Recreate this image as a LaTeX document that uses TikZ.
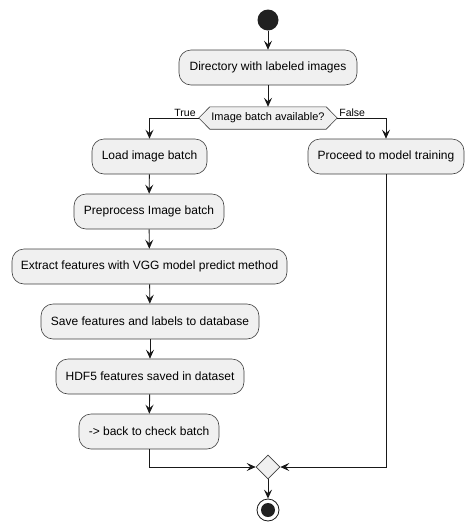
\documentclass[tikz,border=0pt]{standalone}
\usepackage{fontspec}
\setmainfont{Liberation Sans}
\usetikzlibrary{arrows.meta,shapes.geometric}
\begin{document}
\begin{tikzpicture}[x=1pt,y=1pt,
  act/.style={draw=black!75, line width=0.6pt, fill=black!6, rounded corners=12pt,
    minimum height=35pt, inner sep=0pt, font=\fontsize{12}{14}\selectfont},
  flow/.style={draw=black!90, line width=0.9pt, -{Stealth[length=9pt,width=8pt,inset=3.5pt]}},
  lbl/.style={inner sep=1pt, font=\fontsize{10.5}{12}\selectfont}]
\useasboundingbox (0,0) rectangle (475,-531);
\node[circle, fill=black!87, minimum size=21pt, inner sep=0pt] (start) at (268,-20) {};
\node[act, minimum width=178pt] (dir) at (268,-67.5) {Directory with labeled images};
\node[minimum width=138pt, minimum height=22pt, inner sep=0pt] (dec) at (268,-118) {};
\draw[draw=black!75, line width=0.6pt, fill=black!6]
  (dec.west) -- ([xshift=11pt]dec.north west) -- ([xshift=-11pt]dec.north east) -- (dec.east)
  -- ([xshift=-11pt]dec.south east) -- ([xshift=11pt]dec.south west) -- cycle;
\node[font=\fontsize{11}{13}\selectfont] (dectext) at (dec) {Image batch available?};
\node[act, minimum width=115pt] (load) at (149.5,-156.5) {Load image batch};
\node[act, minimum width=156pt] (proc) at (386,-156.5) {Proceed to model training};
\node[act, minimum width=150pt] (pre) at (149,-211.5) {Preprocess Image batch};
\node[act, minimum width=275pt] (ext) at (149.5,-266.5) {Extract features with VGG model predict method};
\node[act, minimum width=218pt] (save) at (150,-321.5) {Save features and labels to database};
\node[act, minimum width=188pt] (hdf) at (150,-376.5) {HDF5 features saved in dataset};
\node[act, minimum width=140pt] (back) at (149,-431.5) {-> back to check batch};
\node[draw=black!75, line width=0.6pt, fill=black!6, diamond, minimum size=24pt, inner sep=0pt, shape aspect=1] (merge) at (268,-467) {};
\node[circle, draw=black!90, line width=0.8pt, fill=white, minimum size=22pt, inner sep=0pt] (end) at (268,-510) {};
\node[circle, fill=black!87, minimum size=14pt, inner sep=0pt] (endin) at (end) {};
\draw[flow] (start) -- (dir);
\draw[flow] (dir) -- (dec);
\draw[flow] (dec.west) -| (load.north);
\draw[flow] (dec.east) -| (proc.north);
\node[lbl, anchor=south east] (t) at ([xshift=-2pt]dec.west) {True};
\node[lbl, anchor=south west] (f) at ([xshift=1pt]dec.east) {False};
\draw[flow] (load) -- (pre);
\draw[flow] (pre) -- (ext);
\draw[flow] (ext) -- (save);
\draw[flow] (save) -- (hdf);
\draw[flow] (hdf) -- (back);
\draw[flow] (back.south) |- (merge.west);
\draw[flow] (proc.south) |- (merge.east);
\draw[flow] (merge) -- (end);
\end{tikzpicture}
\end{document}
